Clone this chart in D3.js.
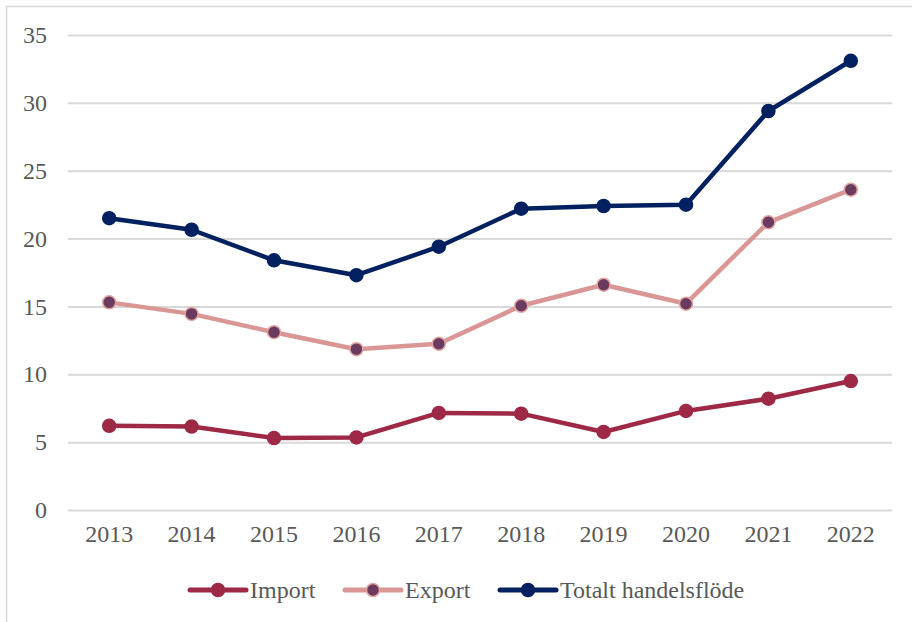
<!DOCTYPE html>
<html>
<head>
<meta charset="utf-8">
<script src="https://cdn.jsdelivr.net/npm/d3@7"></script>
<style>
  body { margin: 0; background: #fff; }
  svg text { font-family: "Liberation Serif", "Times New Roman", serif; fill: #595959; }
</style>
</head>
<body>
<div id="chart"></div>
<script>
var years = ['2013', '2014', '2015', '2016', '2017', '2018', '2019', '2020', '2021', '2022'];
var importValues = [6.2, 6.15, 5.3, 5.35, 7.15, 7.1, 5.75, 7.3, 8.2, 9.5];
var exportValues = [15.3, 14.45, 13.1, 11.85, 12.25, 15.05, 16.6, 15.2, 21.2, 23.6];
var totalValues = [21.5, 20.65, 18.4, 17.3, 19.4, 22.2, 22.4, 22.5, 29.4, 33.1];
var yTicks = [0, 5, 10, 15, 20, 25, 30, 35];
var seriesNames = ['Import', 'Export', 'Totalt handelsflöde'];

var width = 912, height = 622;
var margin = {top: 35, right: 20, bottom: 112, left: 68};
var plotW = 892 - margin.left;
var plotH = 510 - margin.top;
var fontSize = 24;

var series = [
  {name: seriesNames[0], values: importValues, line: '#9e2946', fill: '#9e2946', stroke: '#9e2946'},
  {name: seriesNames[1], values: exportValues, line: '#d99694', fill: '#6b3a5f', stroke: '#e3a3a0'},
  {name: seriesNames[2], values: totalValues, line: '#002060', fill: '#002060', stroke: '#002060'}
];

var svg = d3.select('#chart').append('svg')
  .attr('width', width)
  .attr('height', height);

// chart border
svg.append('rect')
  .attr('x', 6.5).attr('y', 6.5)
  .attr('width', 940).attr('height', 660)
  .attr('fill', 'none')
  .attr('stroke', '#d9d9d9')
  .attr('stroke-width', 1.5);

var g = svg.append('g')
  .attr('transform', 'translate(' + margin.left + ',' + margin.top + ')');

var x = d3.scaleBand()
  .domain(years)
  .range([0, plotW]);

var y = d3.scaleLinear()
  .domain([0, 35])
  .range([plotH, 0]);

// gridlines + y labels
var yAxis = d3.axisLeft(y)
  .tickValues(yTicks)
  .tickSize(-plotW)
  .tickPadding(21);

g.append('g')
  .attr('class', 'y axis')
  .call(yAxis)
  .call(function(sel) {
    sel.select('.domain').remove();
    sel.selectAll('line').attr('stroke', '#d9d9d9').attr('stroke-width', 2);
    sel.selectAll('text').attr('font-size', fontSize).attr('fill', '#595959');
  });

var xAxis = d3.axisBottom(x)
  .tickSize(0)
  .tickPadding(15);

g.append('g')
  .attr('class', 'x axis')
  .attr('transform', 'translate(0,' + plotH + ')')
  .call(xAxis)
  .call(function(sel) {
    sel.select('.domain').remove();
    sel.selectAll('text').attr('font-size', fontSize).attr('fill', '#595959');
  });

var line = d3.line()
  .x(function(d, i) { return x(years[i]) + x.bandwidth() / 2; })
  .y(function(d) { return y(d); });

series.forEach(function(s) {
  g.append('path')
    .datum(s.values)
    .attr('fill', 'none')
    .attr('stroke', s.line)
    .attr('stroke-width', 4.5)
    .attr('stroke-linejoin', 'round')
    .attr('d', line);

  g.selectAll(null)
    .data(s.values)
    .enter()
    .append('circle')
    .attr('cx', function(d, i) { return x(years[i]) + x.bandwidth() / 2; })
    .attr('cy', function(d) { return y(d); })
    .attr('r', 6.5)
    .attr('fill', s.fill)
    .attr('stroke', s.stroke)
    .attr('stroke-width', 1.5);
});

// legend
var legendX = [190, 345, 500];
var legend = svg.append('g').attr('class', 'legend');
series.forEach(function(s, i) {
  var lg = legend.append('g')
    .attr('transform', 'translate(' + legendX[i] + ',590)');
  lg.append('line')
    .attr('x1', 0).attr('x2', 56)
    .attr('stroke', s.line)
    .attr('stroke-width', 5)
    .attr('stroke-linecap', 'round');
  lg.append('circle')
    .attr('cx', 28).attr('r', 6.5)
    .attr('fill', s.fill)
    .attr('stroke', s.stroke)
    .attr('stroke-width', 1.5);
  lg.append('text')
    .attr('x', 60)
    .attr('dy', '0.35em')
    .attr('font-size', fontSize)
    .text(s.name);
});
</script>
</body>
</html>
